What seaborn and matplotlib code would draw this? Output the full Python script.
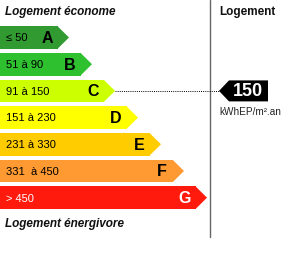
import numpy as np
import pandas as pd
import seaborn as sns
import matplotlib.pyplot as plt
from matplotlib.patches import Polygon

# data
classes = ["A", "B", "C", "D", "E", "F", "G"]
ranges = ["≤ 50", "51 à 90", "91 à 150", "151 à 230", "231 à 330", "331  à 450", "> 450"]
upper_bounds = [50, 90, 150, 230, 330, 450]
bar_len = [58, 81, 104, 127, 150, 173, 196]
colors = ["#319b31", "#2ec02e", "#ccff00", "#ffff00", "#ffcc00", "#ff9a33", "#ff1a0d"]
value = 150
unit = "kWhEP/m².an"

sns.set_theme(style="white")
plt.rcParams["font.family"] = ["Liberation Sans", "DejaVu Sans"]

fig = plt.figure(figsize=(3.0, 2.66), dpi=100)
ax = fig.add_axes([0, 0, 1, 1])

df = pd.DataFrame({"classe": classes, "longueur": bar_len})
sns.barplot(data=df, x="longueur", y="classe", hue="classe", palette=colors,
            legend=False, width=0.85, saturation=1, linewidth=0, ax=ax)

# pixel-ish layout: x in px, y in category units (row pitch 26.7 px)
y0, pitch = 37.5, 26.7
def py(p):
    return (p - y0) / pitch

ax.set_xlim(0, 300)
ax.set_ylim(py(266), py(0))
ax.axis("off")

h = 0.85 / 2
tip = 11
for i, (c, r, L, col) in enumerate(zip(classes, ranges, bar_len, colors)):
    ax.add_patch(Polygon([(L - 0.5, i - h), (L + tip, i), (L - 0.5, i + h)],
                         closed=True, facecolor=col, edgecolor="none"))
    txt_col = "white" if c == "G" else "black"
    ax.text(6, i + 0.03, r, fontsize=8, color=txt_col, va="center", ha="left")
    ax.text(L - 11, i + 0.03, c, fontsize=11.5, fontweight="bold", color=txt_col,
            va="center", ha="center")

ax.text(5, py(12), "Logement économe", fontsize=8.5, fontweight="bold",
        fontstyle="italic", va="center", ha="left", color="#111111")
ax.text(5, py(224), "Logement énergivore", fontsize=8.5, fontweight="bold",
        fontstyle="italic", va="center", ha="left", color="#111111")
ax.text(219, py(12), "Logement", fontsize=8.5, fontweight="bold",
        va="center", ha="left", color="#111111")

ax.plot([210, 210], [py(0), py(237)], color="#666666", lw=1)

# value marker
k = int(np.searchsorted(upper_bounds, value, side="left"))
ax.plot([bar_len[k] + tip, 219], [k, k], color="black", lw=0.7, ls=(0, (1, 1.2)))
mh = 10.5 / pitch
ax.add_patch(Polygon([(219, k), (229, k - mh), (268, k - mh), (268, k + mh), (229, k + mh)],
                     closed=True, facecolor="black", edgecolor="none"))
ax.text(248, k + 0.02, str(value), fontsize=13, fontweight="bold", color="white",
        va="center", ha="center")
ax.text(219, py(112), unit, fontsize=7.2, va="center", ha="left", color="#222222")

fig.savefig("out.png", dpi=100)
plt.close(fig)
